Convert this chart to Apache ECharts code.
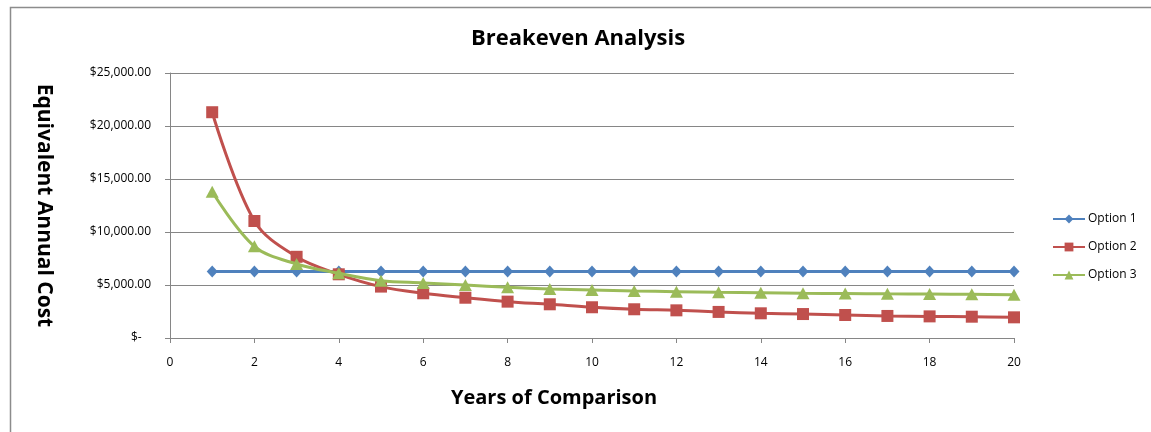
<!DOCTYPE html>
<html>
<head>
<meta charset="utf-8">
<script src="https://cdn.jsdelivr.net/npm/echarts@6/dist/echarts.min.js"></script>
<style>
  html, body { margin: 0; padding: 0; background: #fff; }
  #chart { width: 1151px; height: 432px; }
</style>
</head>
<body>
<div id="chart"></div>
<script>
// data
const years = [1, 2, 3, 4, 5, 6, 7, 8, 9, 10, 11, 12, 13, 14, 15, 16, 17, 18, 19, 20];
const option1 = [6280, 6280, 6280, 6280, 6280, 6280, 6280, 6280, 6280, 6280,
                 6280, 6280, 6280, 6280, 6280, 6280, 6280, 6280, 6280, 6280];
const option2 = [21300, 11040, 7660, 6010, 4850, 4220, 3800, 3430, 3180, 2900,
                 2710, 2610, 2460, 2330, 2260, 2170, 2080, 2040, 2010, 1950];
const option3 = [13800, 8650, 6980, 6100, 5400, 5200, 5000, 4790, 4630, 4530,
                 4440, 4370, 4310, 4270, 4220, 4200, 4170, 4150, 4120, 4090];
const seriesNames = ['Option 1', 'Option 2', 'Option 3'];
const yTicks = [0, 5000, 10000, 15000, 20000, 25000];

const font = '"Open Sans", "Liberation Sans", sans-serif';

const pairs = (vals) => years.map((y, i) => [y, vals[i]]);

const money = (v) => {
    if (v === 0) return '$-   ';
    return '$' + v.toLocaleString('en-US', { minimumFractionDigits: 2, maximumFractionDigits: 2 });
};

const myChart = echarts.init(document.getElementById('chart'), null, { renderer: 'canvas' });

const option = {
    animation: false,
    backgroundColor: '#fff',
    title: {
        text: 'Breakeven Analysis',
        left: 466,
        top: 23,
        textStyle: { fontFamily: font, fontSize: 22, fontWeight: 'bold', color: '#000' }
    },
    graphic: [
        {
            type: 'rect',
            shape: { x: 10.5, y: 7.5, width: 1300, height: 600 },
            style: { fill: 'none', stroke: '#8c8c8c', lineWidth: 1.5 },
            silent: true
        }
    ],
    legend: {
        orient: 'vertical',
        left: 1047,
        top: 208,
        itemGap: 16,
        itemWidth: 32,
        itemHeight: 11,
        data: seriesNames,
        textStyle: { fontFamily: font, fontSize: 12, color: '#000', padding: [0, 0, 0, -2] }
    },
    grid: { left: 170, right: 137, top: 73, bottom: 94 },
    xAxis: {
        type: 'value',
        min: 0,
        max: 20,
        interval: 2,
        name: 'Years of Comparison',
        nameLocation: 'middle',
        nameGap: 50,
        nameTextStyle: {
            fontFamily: font, fontSize: 20, fontWeight: 'bold', color: '#000',
            padding: [0, 76, 0, 0]
        },
        axisLine: { show: true, lineStyle: { color: '#868686', width: 1 } },
        axisTick: { show: true, length: 5, lineStyle: { color: '#868686' } },
        axisLabel: { fontFamily: font, fontSize: 12, color: '#000', margin: 19 },
        splitLine: { show: false }
    },
    yAxis: {
        type: 'value',
        min: 0,
        max: 25000,
        interval: 5000,
        name: 'Equivalent Annual Cost',
        nameLocation: 'middle',
        nameRotate: -90,
        nameGap: 116,
        nameTextStyle: { fontFamily: font, fontSize: 21, fontWeight: 'bold', color: '#000' },
        axisLine: { show: true, lineStyle: { color: '#868686', width: 1 } },
        axisTick: { show: true, length: 5, lineStyle: { color: '#868686' } },
        axisLabel: {
            fontFamily: font, fontSize: 12, color: '#000', margin: 19,
            formatter: (v) => yTicks.includes(v) ? money(v) : ''
        },
        splitLine: { show: true, lineStyle: { color: '#868686', width: 1 } }
    },
    series: [
        {
            name: seriesNames[0],
            type: 'line',
            data: pairs(option1),
            symbol: 'diamond',
            symbolSize: [11, 12],
            lineStyle: { color: '#4F81BD', width: 3 },
            itemStyle: { color: '#4F81BD' },
            z: 3
        },
        {
            name: seriesNames[1],
            type: 'line',
            data: pairs(option2),
            smooth: 0.35,
            symbol: 'rect',
            symbolSize: 12,
            lineStyle: { color: '#C0504D', width: 3 },
            itemStyle: { color: '#C0504D' },
            z: 4
        },
        {
            name: seriesNames[2],
            type: 'line',
            data: pairs(option3),
            smooth: 0.35,
            symbol: 'triangle',
            symbolSize: [13, 12],
            lineStyle: { color: '#9BBB59', width: 3 },
            itemStyle: { color: '#9BBB59' },
            z: 5
        }
    ]
};

myChart.setOption(option);
</script>
</body>
</html>
